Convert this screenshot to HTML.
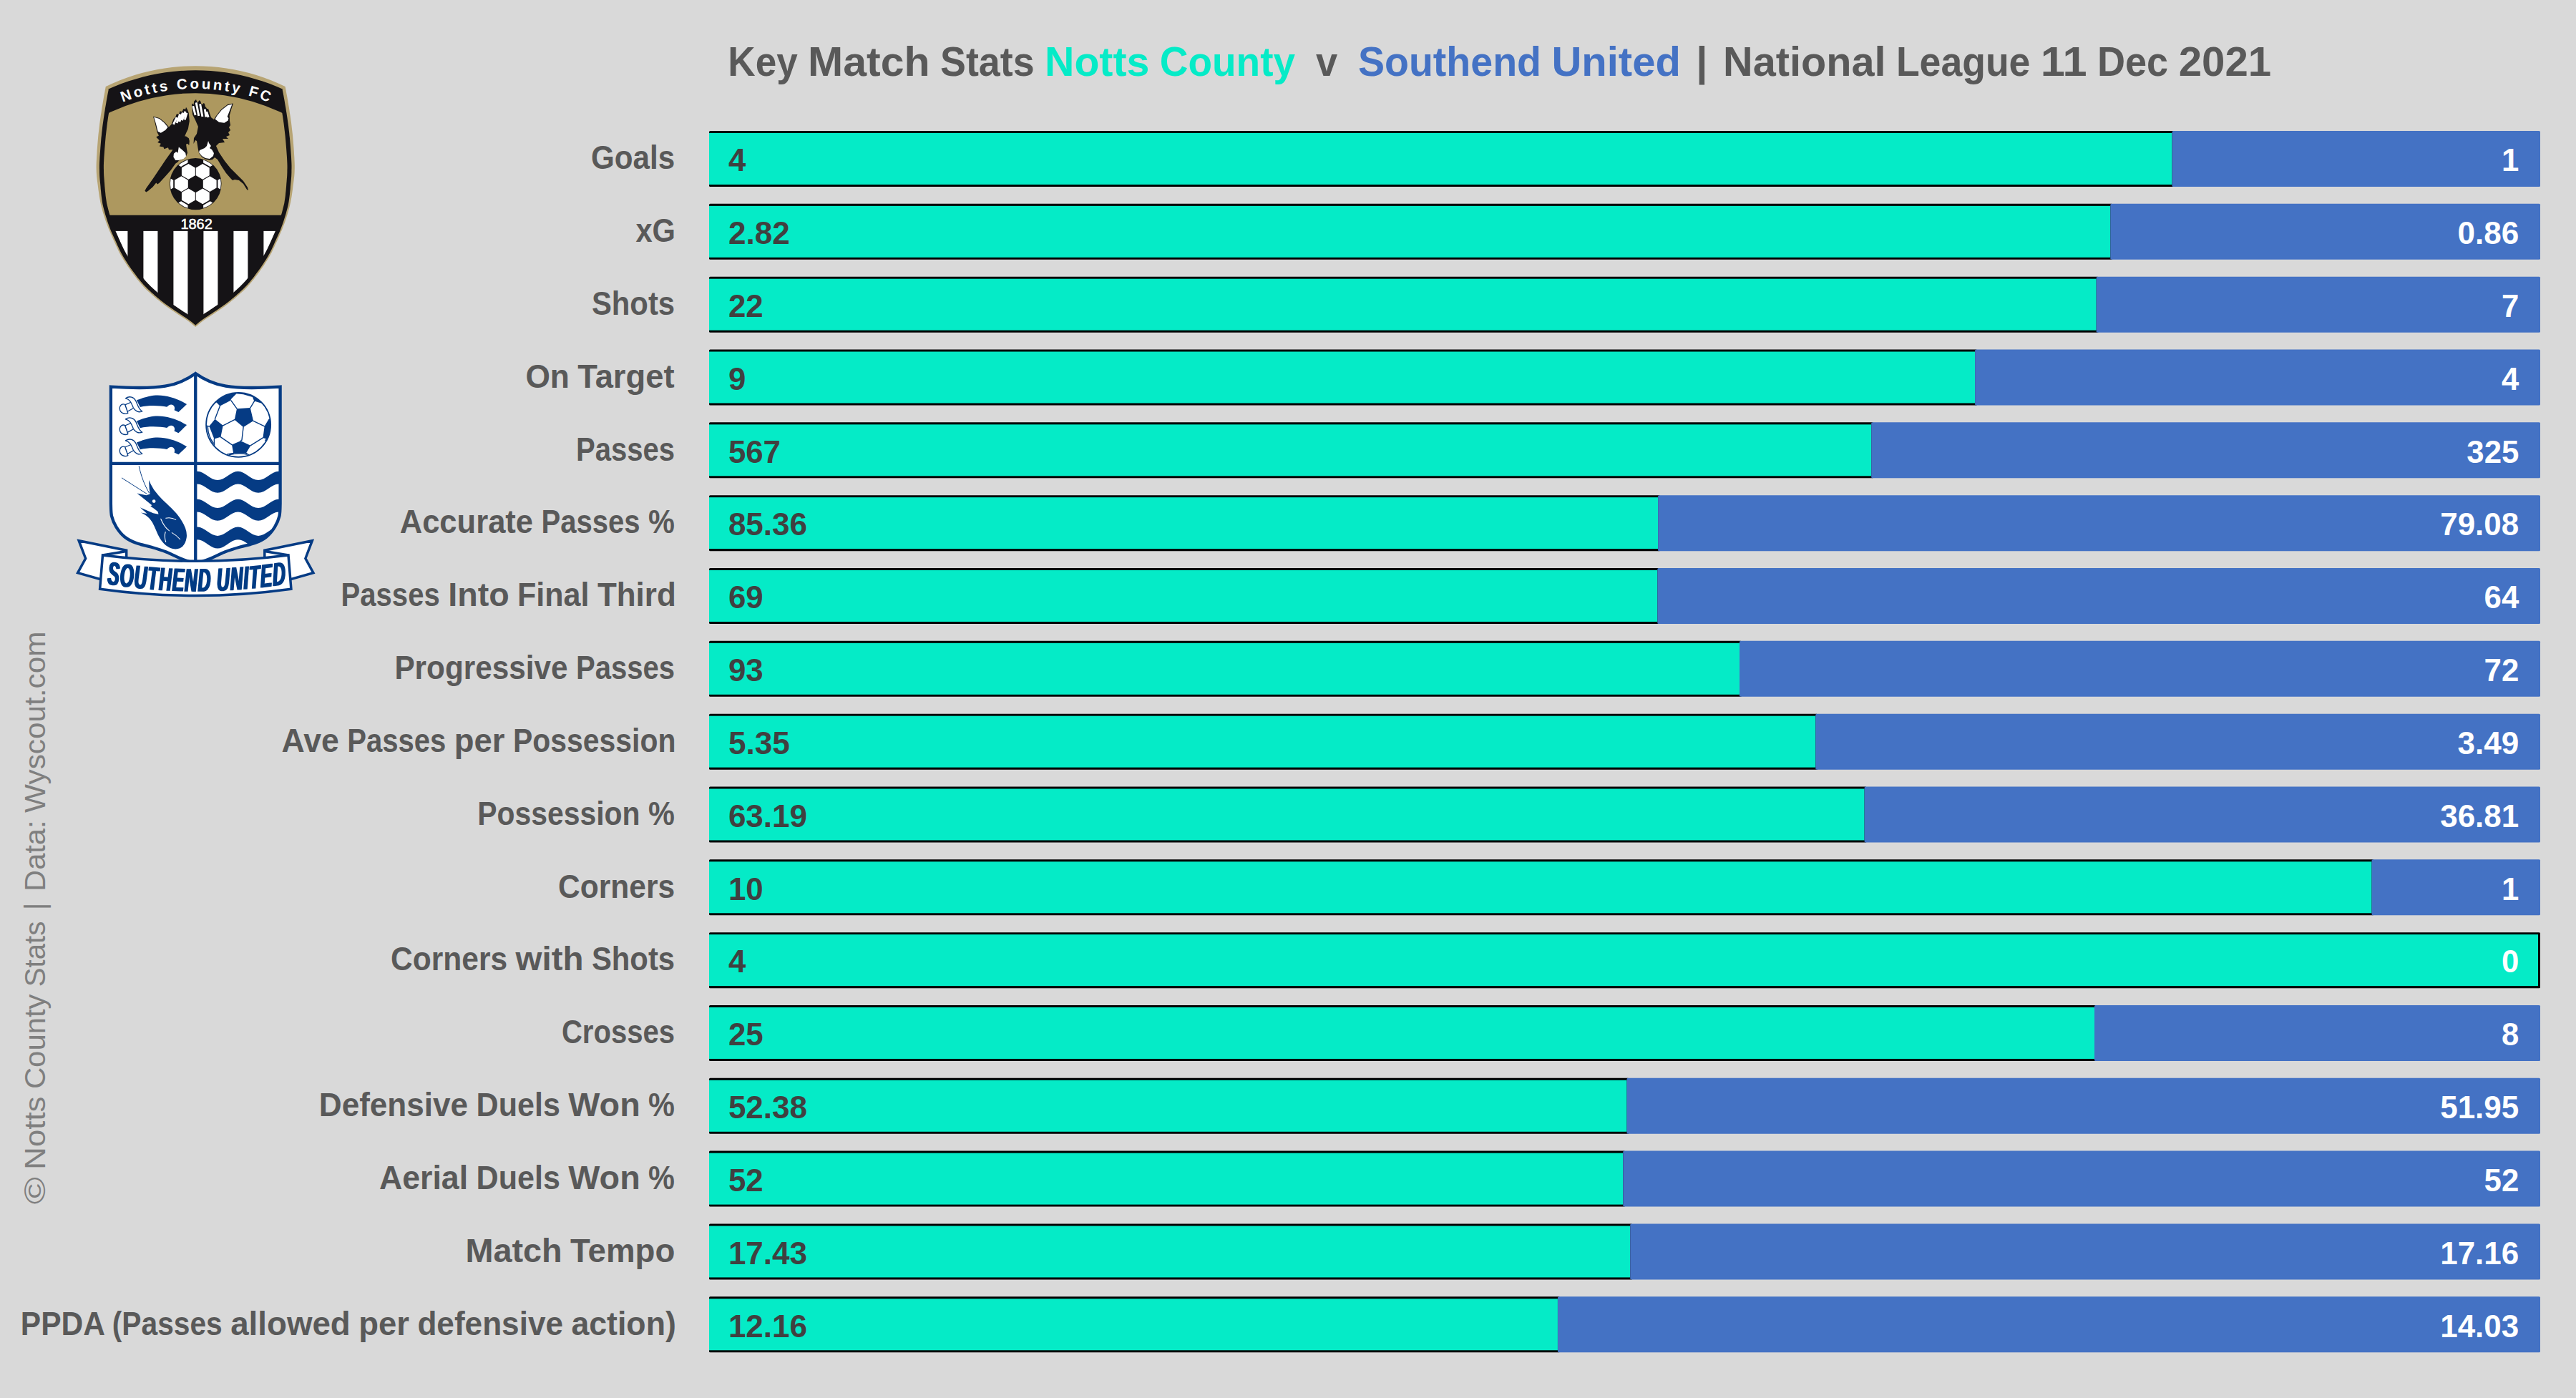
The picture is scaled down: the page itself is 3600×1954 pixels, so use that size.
<!DOCTYPE html>
<html><head><meta charset="utf-8"><title>Key Match Stats</title>
<style>
html,body{margin:0;padding:0;background:#D9D9D9}
svg{display:block}
text{font-family:"Liberation Sans",sans-serif;white-space:pre}
</style></head><body>
<svg width="3600" height="1954" viewBox="0 0 3600 1954">
<rect width="3600" height="1954" fill="#D9D9D9"/>
<g id="bars">
<rect x="991.0" y="183.00" width="2047.50" height="78" fill="#000" rx="1.5"/>
<rect x="991.0" y="186.00" width="2044.50" height="72" fill="#05EBC7"/>
<rect x="3035.50" y="183.00" width="514.50" height="78" fill="#4472C4" rx="1.5"/>
<rect x="991.0" y="284.83" width="1961.32" height="78" fill="#000" rx="1.5"/>
<rect x="991.0" y="287.83" width="1958.32" height="72" fill="#05EBC7"/>
<rect x="2949.32" y="284.83" width="600.68" height="78" fill="#4472C4" rx="1.5"/>
<rect x="991.0" y="386.66" width="1941.67" height="78" fill="#000" rx="1.5"/>
<rect x="991.0" y="389.66" width="1938.67" height="72" fill="#05EBC7"/>
<rect x="2929.67" y="386.66" width="620.33" height="78" fill="#4472C4" rx="1.5"/>
<rect x="991.0" y="488.49" width="1772.08" height="78" fill="#000" rx="1.5"/>
<rect x="991.0" y="491.49" width="1769.08" height="72" fill="#05EBC7"/>
<rect x="2760.08" y="488.49" width="789.92" height="78" fill="#4472C4" rx="1.5"/>
<rect x="991.0" y="590.32" width="1627.18" height="78" fill="#000" rx="1.5"/>
<rect x="991.0" y="593.32" width="1624.18" height="72" fill="#05EBC7"/>
<rect x="2615.18" y="590.32" width="934.82" height="78" fill="#4472C4" rx="1.5"/>
<rect x="991.0" y="692.15" width="1329.09" height="78" fill="#000" rx="1.5"/>
<rect x="991.0" y="695.15" width="1326.09" height="72" fill="#05EBC7"/>
<rect x="2317.09" y="692.15" width="1232.91" height="78" fill="#4472C4" rx="1.5"/>
<rect x="991.0" y="793.98" width="1328.32" height="78" fill="#000" rx="1.5"/>
<rect x="991.0" y="796.98" width="1325.32" height="72" fill="#05EBC7"/>
<rect x="2316.32" y="793.98" width="1233.68" height="78" fill="#4472C4" rx="1.5"/>
<rect x="991.0" y="895.81" width="1443.00" height="78" fill="#000" rx="1.5"/>
<rect x="991.0" y="898.81" width="1440.00" height="72" fill="#05EBC7"/>
<rect x="2431.00" y="895.81" width="1119.00" height="78" fill="#4472C4" rx="1.5"/>
<rect x="991.0" y="997.64" width="1549.31" height="78" fill="#000" rx="1.5"/>
<rect x="991.0" y="1000.64" width="1546.31" height="72" fill="#05EBC7"/>
<rect x="2537.31" y="997.64" width="1012.69" height="78" fill="#4472C4" rx="1.5"/>
<rect x="991.0" y="1099.47" width="1617.58" height="78" fill="#000" rx="1.5"/>
<rect x="991.0" y="1102.47" width="1614.58" height="72" fill="#05EBC7"/>
<rect x="2605.58" y="1099.47" width="944.42" height="78" fill="#4472C4" rx="1.5"/>
<rect x="991.0" y="1201.30" width="2326.50" height="78" fill="#000" rx="1.5"/>
<rect x="991.0" y="1204.30" width="2323.50" height="72" fill="#05EBC7"/>
<rect x="3314.50" y="1201.30" width="235.50" height="78" fill="#4472C4" rx="1.5"/>
<rect x="991.0" y="1303.13" width="2559.00" height="78" fill="#000" rx="1.5"/>
<rect x="991.0" y="1306.13" width="2556.00" height="72" fill="#05EBC7"/>
<rect x="991.0" y="1404.96" width="1939.00" height="78" fill="#000" rx="1.5"/>
<rect x="991.0" y="1407.96" width="1936.00" height="72" fill="#05EBC7"/>
<rect x="2927.00" y="1404.96" width="623.00" height="78" fill="#4472C4" rx="1.5"/>
<rect x="991.0" y="1506.79" width="1285.52" height="78" fill="#000" rx="1.5"/>
<rect x="991.0" y="1509.79" width="1282.52" height="72" fill="#05EBC7"/>
<rect x="2273.52" y="1506.79" width="1276.48" height="78" fill="#4472C4" rx="1.5"/>
<rect x="991.0" y="1608.62" width="1280.25" height="78" fill="#000" rx="1.5"/>
<rect x="991.0" y="1611.62" width="1277.25" height="72" fill="#05EBC7"/>
<rect x="2268.25" y="1608.62" width="1281.75" height="78" fill="#4472C4" rx="1.5"/>
<rect x="991.0" y="1710.45" width="1290.23" height="78" fill="#000" rx="1.5"/>
<rect x="991.0" y="1713.45" width="1287.23" height="72" fill="#05EBC7"/>
<rect x="2278.23" y="1710.45" width="1271.77" height="78" fill="#4472C4" rx="1.5"/>
<rect x="991.0" y="1812.28" width="1188.95" height="78" fill="#000" rx="1.5"/>
<rect x="991.0" y="1815.28" width="1185.95" height="72" fill="#05EBC7"/>
<rect x="2176.95" y="1812.28" width="1373.05" height="78" fill="#4472C4" rx="1.5"/>
</g>
<g id="texts" xml:space="preserve">
<text y="236.2" font-size="45.98" font-weight="bold" fill="#595959" ><tspan x="825.9" textLength="117.2" lengthAdjust="spacingAndGlyphs">Goals</tspan></text>
<text y="239.3" font-size="43.55" font-weight="bold" fill="#404040" ><tspan x="1017.9" textLength="24.3" lengthAdjust="spacingAndGlyphs">4</tspan></text>
<text y="239.3" font-size="43.55" font-weight="bold" fill="#fff" ><tspan x="3496.0" textLength="24.3" lengthAdjust="spacingAndGlyphs">1</tspan></text>
<text y="338.0" font-size="45.98" font-weight="bold" fill="#595959" ><tspan x="888.4" textLength="55.6" lengthAdjust="spacingAndGlyphs">xG</tspan></text>
<text y="341.1" font-size="43.55" font-weight="bold" fill="#404040" ><tspan x="1017.9" textLength="85.8" lengthAdjust="spacingAndGlyphs">2.82</tspan></text>
<text y="341.1" font-size="43.55" font-weight="bold" fill="#fff" ><tspan x="3434.5" textLength="85.8" lengthAdjust="spacingAndGlyphs">0.86</tspan></text>
<text y="439.9" font-size="45.98" font-weight="bold" fill="#595959" ><tspan x="826.9" textLength="116.2" lengthAdjust="spacingAndGlyphs">Shots</tspan></text>
<text y="443.0" font-size="43.55" font-weight="bold" fill="#404040" ><tspan x="1017.9" textLength="48.7" lengthAdjust="spacingAndGlyphs">22</tspan></text>
<text y="443.0" font-size="43.55" font-weight="bold" fill="#fff" ><tspan x="3496.0" textLength="24.3" lengthAdjust="spacingAndGlyphs">7</tspan></text>
<text y="541.7" font-size="45.98" font-weight="bold" fill="#595959" ><tspan x="734.4" textLength="61.5" lengthAdjust="spacingAndGlyphs">On</tspan> <tspan x="807.3" textLength="135.2" lengthAdjust="spacingAndGlyphs">Target</tspan></text>
<text y="544.8" font-size="43.55" font-weight="bold" fill="#404040" ><tspan x="1017.9" textLength="24.3" lengthAdjust="spacingAndGlyphs">9</tspan></text>
<text y="544.8" font-size="43.55" font-weight="bold" fill="#fff" ><tspan x="3496.0" textLength="24.3" lengthAdjust="spacingAndGlyphs">4</tspan></text>
<text y="643.5" font-size="45.98" font-weight="bold" fill="#595959" ><tspan x="805.0" textLength="138.1" lengthAdjust="spacingAndGlyphs">Passes</tspan></text>
<text y="646.6" font-size="43.55" font-weight="bold" fill="#404040" ><tspan x="1017.9" textLength="73.0" lengthAdjust="spacingAndGlyphs">567</tspan></text>
<text y="646.6" font-size="43.55" font-weight="bold" fill="#fff" ><tspan x="3447.3" textLength="73.0" lengthAdjust="spacingAndGlyphs">325</tspan></text>
<text y="745.4" font-size="45.98" font-weight="bold" fill="#595959" ><tspan x="558.7" textLength="186.4" lengthAdjust="spacingAndGlyphs">Accurate</tspan> <tspan x="756.5" textLength="138.1" lengthAdjust="spacingAndGlyphs">Passes</tspan> <tspan x="906.1" textLength="36.9" lengthAdjust="spacingAndGlyphs">%</tspan></text>
<text y="748.4" font-size="43.55" font-weight="bold" fill="#404040" ><tspan x="1017.9" textLength="110.1" lengthAdjust="spacingAndGlyphs">85.36</tspan></text>
<text y="748.4" font-size="43.55" font-weight="bold" fill="#fff" ><tspan x="3410.2" textLength="110.1" lengthAdjust="spacingAndGlyphs">79.08</tspan></text>
<text y="847.2" font-size="45.98" font-weight="bold" fill="#595959" ><tspan x="476.6" textLength="138.1" lengthAdjust="spacingAndGlyphs">Passes</tspan> <tspan x="626.2" textLength="85.5" lengthAdjust="spacingAndGlyphs">Into</tspan> <tspan x="723.1" textLength="100.4" lengthAdjust="spacingAndGlyphs">Final</tspan> <tspan x="834.9" textLength="109.9" lengthAdjust="spacingAndGlyphs">Third</tspan></text>
<text y="850.3" font-size="43.55" font-weight="bold" fill="#404040" ><tspan x="1017.9" textLength="48.7" lengthAdjust="spacingAndGlyphs">69</tspan></text>
<text y="850.3" font-size="43.55" font-weight="bold" fill="#fff" ><tspan x="3471.6" textLength="48.7" lengthAdjust="spacingAndGlyphs">64</tspan></text>
<text y="949.0" font-size="45.98" font-weight="bold" fill="#595959" ><tspan x="551.4" textLength="242.1" lengthAdjust="spacingAndGlyphs">Progressive</tspan> <tspan x="805.0" textLength="138.1" lengthAdjust="spacingAndGlyphs">Passes</tspan></text>
<text y="952.1" font-size="43.55" font-weight="bold" fill="#404040" ><tspan x="1017.9" textLength="48.7" lengthAdjust="spacingAndGlyphs">93</tspan></text>
<text y="952.1" font-size="43.55" font-weight="bold" fill="#fff" ><tspan x="3471.6" textLength="48.7" lengthAdjust="spacingAndGlyphs">72</tspan></text>
<text y="1050.8" font-size="45.98" font-weight="bold" fill="#595959" ><tspan x="393.6" textLength="80.2" lengthAdjust="spacingAndGlyphs">Ave</tspan> <tspan x="485.3" textLength="138.1" lengthAdjust="spacingAndGlyphs">Passes</tspan> <tspan x="634.8" textLength="70.7" lengthAdjust="spacingAndGlyphs">per</tspan> <tspan x="717.0" textLength="227.4" lengthAdjust="spacingAndGlyphs">Possession</tspan></text>
<text y="1053.9" font-size="43.55" font-weight="bold" fill="#404040" ><tspan x="1017.9" textLength="85.8" lengthAdjust="spacingAndGlyphs">5.35</tspan></text>
<text y="1053.9" font-size="43.55" font-weight="bold" fill="#fff" ><tspan x="3434.5" textLength="85.8" lengthAdjust="spacingAndGlyphs">3.49</tspan></text>
<text y="1152.7" font-size="45.98" font-weight="bold" fill="#595959" ><tspan x="667.2" textLength="227.4" lengthAdjust="spacingAndGlyphs">Possession</tspan> <tspan x="906.1" textLength="36.9" lengthAdjust="spacingAndGlyphs">%</tspan></text>
<text y="1155.8" font-size="43.55" font-weight="bold" fill="#404040" ><tspan x="1017.9" textLength="110.1" lengthAdjust="spacingAndGlyphs">63.19</tspan></text>
<text y="1155.8" font-size="43.55" font-weight="bold" fill="#fff" ><tspan x="3410.2" textLength="110.1" lengthAdjust="spacingAndGlyphs">36.81</tspan></text>
<text y="1254.5" font-size="45.98" font-weight="bold" fill="#595959" ><tspan x="780.1" textLength="163.0" lengthAdjust="spacingAndGlyphs">Corners</tspan></text>
<text y="1257.6" font-size="43.55" font-weight="bold" fill="#404040" ><tspan x="1017.9" textLength="48.7" lengthAdjust="spacingAndGlyphs">10</tspan></text>
<text y="1257.6" font-size="43.55" font-weight="bold" fill="#fff" ><tspan x="3496.0" textLength="24.3" lengthAdjust="spacingAndGlyphs">1</tspan></text>
<text y="1356.3" font-size="45.98" font-weight="bold" fill="#595959" ><tspan x="546.1" textLength="163.0" lengthAdjust="spacingAndGlyphs">Corners</tspan> <tspan x="720.5" textLength="95.0" lengthAdjust="spacingAndGlyphs">with</tspan> <tspan x="826.9" textLength="116.2" lengthAdjust="spacingAndGlyphs">Shots</tspan></text>
<text y="1359.4" font-size="43.55" font-weight="bold" fill="#404040" ><tspan x="1017.9" textLength="24.3" lengthAdjust="spacingAndGlyphs">4</tspan></text>
<text y="1359.4" font-size="43.55" font-weight="bold" fill="#fff" ><tspan x="3496.0" textLength="24.3" lengthAdjust="spacingAndGlyphs">0</tspan></text>
<text y="1458.2" font-size="45.98" font-weight="bold" fill="#595959" ><tspan x="784.9" textLength="158.2" lengthAdjust="spacingAndGlyphs">Crosses</tspan></text>
<text y="1461.3" font-size="43.55" font-weight="bold" fill="#404040" ><tspan x="1017.9" textLength="48.7" lengthAdjust="spacingAndGlyphs">25</tspan></text>
<text y="1461.3" font-size="43.55" font-weight="bold" fill="#fff" ><tspan x="3496.0" textLength="24.3" lengthAdjust="spacingAndGlyphs">8</tspan></text>
<text y="1560.0" font-size="45.98" font-weight="bold" fill="#595959" ><tspan x="445.8" textLength="208.3" lengthAdjust="spacingAndGlyphs">Defensive</tspan> <tspan x="665.6" textLength="117.3" lengthAdjust="spacingAndGlyphs">Duels</tspan> <tspan x="794.3" textLength="100.4" lengthAdjust="spacingAndGlyphs">Won</tspan> <tspan x="906.1" textLength="36.9" lengthAdjust="spacingAndGlyphs">%</tspan></text>
<text y="1563.1" font-size="43.55" font-weight="bold" fill="#404040" ><tspan x="1017.9" textLength="110.1" lengthAdjust="spacingAndGlyphs">52.38</tspan></text>
<text y="1563.1" font-size="43.55" font-weight="bold" fill="#fff" ><tspan x="3410.2" textLength="110.1" lengthAdjust="spacingAndGlyphs">51.95</tspan></text>
<text y="1661.8" font-size="45.98" font-weight="bold" fill="#595959" ><tspan x="530.0" textLength="124.1" lengthAdjust="spacingAndGlyphs">Aerial</tspan> <tspan x="665.6" textLength="117.3" lengthAdjust="spacingAndGlyphs">Duels</tspan> <tspan x="794.3" textLength="100.4" lengthAdjust="spacingAndGlyphs">Won</tspan> <tspan x="906.1" textLength="36.9" lengthAdjust="spacingAndGlyphs">%</tspan></text>
<text y="1664.9" font-size="43.55" font-weight="bold" fill="#404040" ><tspan x="1017.9" textLength="48.7" lengthAdjust="spacingAndGlyphs">52</tspan></text>
<text y="1664.9" font-size="43.55" font-weight="bold" fill="#fff" ><tspan x="3471.6" textLength="48.7" lengthAdjust="spacingAndGlyphs">52</tspan></text>
<text y="1763.7" font-size="45.98" font-weight="bold" fill="#595959" ><tspan x="650.4" textLength="135.3" lengthAdjust="spacingAndGlyphs">Match</tspan> <tspan x="797.1" textLength="146.2" lengthAdjust="spacingAndGlyphs">Tempo</tspan></text>
<text y="1766.8" font-size="43.55" font-weight="bold" fill="#404040" ><tspan x="1017.9" textLength="110.1" lengthAdjust="spacingAndGlyphs">17.43</tspan></text>
<text y="1766.8" font-size="43.55" font-weight="bold" fill="#fff" ><tspan x="3410.2" textLength="110.1" lengthAdjust="spacingAndGlyphs">17.16</tspan></text>
<text y="1865.5" font-size="45.98" font-weight="bold" fill="#595959" ><tspan x="28.8" textLength="116.6" lengthAdjust="spacingAndGlyphs">PPDA</tspan> <tspan x="156.8" textLength="153.9" lengthAdjust="spacingAndGlyphs">(Passes</tspan> <tspan x="322.2" textLength="167.6" lengthAdjust="spacingAndGlyphs">allowed</tspan> <tspan x="501.3" textLength="70.7" lengthAdjust="spacingAndGlyphs">per</tspan> <tspan x="583.4" textLength="203.6" lengthAdjust="spacingAndGlyphs">defensive</tspan> <tspan x="798.4" textLength="146.4" lengthAdjust="spacingAndGlyphs">action)</tspan></text>
<text y="1868.6" font-size="43.55" font-weight="bold" fill="#404040" ><tspan x="1017.9" textLength="110.1" lengthAdjust="spacingAndGlyphs">12.16</tspan></text>
<text y="1868.6" font-size="43.55" font-weight="bold" fill="#fff" ><tspan x="3410.2" textLength="110.1" lengthAdjust="spacingAndGlyphs">14.03</tspan></text>
<text y="106.3" font-size="57.98" font-weight="bold" fill="#595959" ><tspan x="1017.3" textLength="97.4" lengthAdjust="spacingAndGlyphs">Key</tspan> <tspan x="1129.1" textLength="170.6" lengthAdjust="spacingAndGlyphs">Match</tspan> <tspan x="1314.1" textLength="131.5" lengthAdjust="spacingAndGlyphs">Stats</tspan></text>
<text y="106.3" font-size="57.98" font-weight="bold" fill="#05EBC7" ><tspan x="1460.1" textLength="146.2" lengthAdjust="spacingAndGlyphs">Notts</tspan> <tspan x="1620.8" textLength="189.2" lengthAdjust="spacingAndGlyphs">County</tspan></text>
<text y="106.3" font-size="57.98" font-weight="bold" fill="#595959" ><tspan x="1838.9" textLength="30.2" lengthAdjust="spacingAndGlyphs">v</tspan></text>
<text y="106.3" font-size="57.98" font-weight="bold" fill="#4472C4" ><tspan x="1898.0" textLength="256.0" lengthAdjust="spacingAndGlyphs">Southend</tspan> <tspan x="2168.5" textLength="180.3" lengthAdjust="spacingAndGlyphs">United</tspan></text>
<text y="106.3" font-size="57.98" font-weight="bold" fill="#595959" ><tspan x="2370.3">|</tspan> <tspan x="2408.1" textLength="227.4" lengthAdjust="spacingAndGlyphs">National</tspan> <tspan x="2649.9" textLength="187.5" lengthAdjust="spacingAndGlyphs">League</tspan> <tspan x="2851.8" textLength="64.8" lengthAdjust="spacingAndGlyphs">11</tspan> <tspan x="2931.0" textLength="99.2" lengthAdjust="spacingAndGlyphs">Dec</tspan> <tspan x="3044.7" textLength="129.5" lengthAdjust="spacingAndGlyphs">2021</tspan></text>
<g transform="translate(62.8 1683.2) rotate(-90)"><text y="0.0" font-size="41.51" font-weight="normal" fill="#7F7F7F" ><tspan x="0.0" textLength="38.2" lengthAdjust="spacingAndGlyphs">©</tspan> <tspan x="48.5" textLength="102.2" lengthAdjust="spacingAndGlyphs">Notts</tspan> <tspan x="161.1" textLength="132.6" lengthAdjust="spacingAndGlyphs">County</tspan> <tspan x="304.0" textLength="91.5" lengthAdjust="spacingAndGlyphs">Stats</tspan> <tspan x="411.0">|</tspan> <tspan x="437.3" textLength="99.5" lengthAdjust="spacingAndGlyphs">Data:</tspan> <tspan x="547.1" textLength="253.7" lengthAdjust="spacingAndGlyphs">Wyscout.com</tspan></text></g>
</g>
<g id="notts-crest">
<defs><clipPath id="ncin"><path d="M153.6,130.0 162.0,126.5 171.7,122.7 181.5,119.2 191.4,116.1 201.4,113.3 211.5,111.0 221.7,108.9 231.9,107.3 242.2,105.9 252.5,105.0 262.8,104.4 273.2,104.2 283.6,104.4 293.9,105.0 304.2,105.9 314.5,107.3 324.7,108.9 334.9,111.0 345.0,113.3 355.0,116.1 364.9,119.2 374.7,122.7 384.4,126.5 392.8,130.0 388.4,124.8 389.0,127.5 389.6,130.7 390.3,134.2 391.0,137.9 391.7,141.7 392.3,145.4 392.9,148.9 393.4,152.3 394.0,155.7 394.5,159.1 395.1,162.5 395.6,166.0 396.1,169.4 396.6,172.9 397.0,176.3 397.4,179.7 397.8,183.1 398.2,186.4 398.6,189.8 398.9,193.2 399.2,196.6 399.5,200.1 399.8,203.8 400.1,207.6 400.4,211.6 400.7,215.8 401.0,219.9 401.2,224.0 401.4,227.9 401.5,231.6 401.5,234.9 401.4,237.9 401.4,240.7 401.3,243.2 401.2,245.7 401.0,248.2 400.8,250.8 400.6,253.6 400.3,256.7 400.1,260.0 399.8,263.3 399.5,266.8 399.1,270.2 398.8,273.7 398.3,277.2 397.8,280.6 397.3,283.9 396.5,287.3 395.7,290.6 394.8,294.0 393.9,297.4 392.9,300.8 391.8,304.2 390.7,307.6 389.6,311.0 388.3,314.4 387.0,318.0 385.5,321.6 383.9,325.2 382.3,328.8 380.8,332.2 379.3,335.4 378.0,338.4 376.8,341.1 375.7,343.4 374.7,345.5 373.8,347.4 372.9,349.2 372.0,351.1 370.9,353.0 369.7,355.2 368.3,357.5 366.8,360.0 365.2,362.5 363.5,365.1 361.8,367.6 360.0,370.2 358.2,372.8 356.5,375.3 354.7,377.8 352.8,380.3 351.0,382.8 349.1,385.2 347.2,387.6 345.3,389.9 343.4,392.2 341.5,394.3 339.7,396.2 337.9,398.1 336.0,400.0 334.1,401.7 332.2,403.5 330.3,405.2 328.3,406.9 326.4,408.7 324.5,410.3 322.6,411.9 320.7,413.5 318.8,415.0 316.9,416.5 315.0,418.0 313.1,419.5 311.1,420.9 309.2,422.3 307.3,423.7 305.4,425.1 303.5,426.4 301.5,427.7 299.6,429.1 297.6,430.4 295.6,431.7 293.7,433.0 291.7,434.4 289.7,435.7 287.6,437.0 285.6,438.3 283.6,439.7 281.6,441.0 279.8,442.3 278.0,443.6 276.2,444.9 274.6,446.2 273.0,447.5 271.6,448.6 270.3,449.7 269.3,450.5 273.2,449.5 277.1,450.5 276.1,449.7 274.8,448.6 273.4,447.5 271.8,446.2 270.2,444.9 268.4,443.6 266.6,442.3 264.8,441.0 262.8,439.7 260.8,438.3 258.8,437.0 256.7,435.7 254.7,434.4 252.7,433.0 250.8,431.7 248.8,430.4 246.8,429.1 244.9,427.7 242.9,426.4 241.0,425.1 239.1,423.7 237.2,422.3 235.3,420.9 233.3,419.5 231.4,418.0 229.5,416.5 227.6,415.0 225.7,413.5 223.8,411.9 221.9,410.3 220.0,408.7 218.1,406.9 216.1,405.2 214.2,403.5 212.3,401.7 210.4,400.0 208.5,398.1 206.7,396.2 204.9,394.3 203.0,392.2 201.1,389.9 199.2,387.6 197.3,385.2 195.4,382.8 193.6,380.3 191.7,377.8 189.9,375.3 188.2,372.8 186.4,370.2 184.6,367.6 182.9,365.1 181.2,362.5 179.6,360.0 178.1,357.5 176.7,355.2 175.5,353.0 174.4,351.1 173.5,349.2 172.6,347.4 171.7,345.5 170.7,343.4 169.6,341.1 168.4,338.4 167.1,335.4 165.6,332.2 164.1,328.8 162.5,325.2 160.9,321.6 159.4,318.0 158.1,314.4 156.8,311.0 155.7,307.6 154.6,304.2 153.5,300.8 152.5,297.4 151.6,294.0 150.7,290.6 149.9,287.3 149.1,283.9 148.6,280.6 148.1,277.2 147.6,273.7 147.3,270.2 146.9,266.8 146.6,263.3 146.3,260.0 146.1,256.7 145.8,253.6 145.6,250.8 145.4,248.2 145.2,245.7 145.1,243.2 145.0,240.7 145.0,237.9 144.9,234.9 144.9,231.6 145.0,227.9 145.2,224.0 145.4,219.9 145.7,215.8 146.0,211.6 146.3,207.6 146.6,203.8 146.9,200.1 147.2,196.6 147.5,193.2 147.8,189.8 148.2,186.4 148.6,183.1 149.0,179.7 149.4,176.3 149.8,172.9 150.3,169.4 150.8,166.0 151.3,162.5 151.9,159.1 152.4,155.7 153.0,152.3 153.5,148.9 154.1,145.4 154.7,141.7 155.4,137.9 156.1,134.2 156.8,130.7 157.4,127.5 158.0,124.8Z"/></clipPath>
<path id="ncarc" d="M130.45,162.30 A285.9,285.9 0 0 1 416.35,162.30"/>
</defs>
<path d="M147.8,120.9 157.6,116.4 167.6,112.2 177.7,108.5 188.0,105.1 198.4,102.1 208.9,99.5 219.5,97.3 230.1,95.4 240.8,94.0 251.6,93.0 262.4,92.4 273.2,92.2 284.0,92.4 294.8,93.0 305.6,94.0 316.3,95.4 326.9,97.3 337.5,99.5 348.0,102.1 358.4,105.1 368.7,108.5 378.8,112.2 388.8,116.4 398.6,120.9 399.0,122.9 399.5,125.6 400.0,128.8 400.7,132.3 401.4,136.1 402.1,139.9 402.7,143.7 403.3,147.2 403.9,150.6 404.4,154.0 404.9,157.5 405.5,161.0 406.0,164.5 406.5,168.0 407.0,171.5 407.4,175.0 407.8,178.5 408.2,181.9 408.6,185.3 409.0,188.7 409.3,192.2 409.6,195.7 409.9,199.3 410.2,203.0 410.5,206.9 410.8,210.9 411.0,215.1 411.3,219.3 411.5,223.5 411.7,227.5 411.8,231.4 411.8,235.0 411.7,238.3 411.6,241.2 411.4,244.0 411.2,246.7 410.9,249.3 410.6,252.0 410.2,254.9 409.8,257.9 409.4,261.1 409.0,264.5 408.5,268.0 408.0,271.5 407.5,275.1 406.8,278.7 406.2,282.3 405.4,285.8 404.6,289.3 403.6,292.8 402.7,296.3 401.6,299.8 400.5,303.2 399.4,306.7 398.2,310.2 396.9,313.7 395.5,317.3 394.1,320.9 392.5,324.6 390.9,328.3 389.3,331.9 387.8,335.4 386.3,338.6 384.9,341.6 383.7,344.3 382.6,346.6 381.6,348.7 380.6,350.8 379.7,352.7 378.6,354.7 377.5,356.7 376.2,359.0 374.7,361.4 373.2,364.0 371.5,366.6 369.8,369.2 368.1,371.9 366.2,374.5 364.4,377.1 362.6,379.7 360.8,382.2 358.9,384.8 356.9,387.3 355.0,389.9 353.0,392.3 351.0,394.7 349.1,397.1 347.1,399.3 345.1,401.4 343.2,403.4 341.2,405.4 339.2,407.2 337.2,409.1 335.2,410.8 333.3,412.6 331.3,414.3 329.3,416.0 327.4,417.7 325.4,419.3 323.4,420.8 321.5,422.4 319.5,423.9 317.6,425.4 315.6,426.9 313.6,428.4 311.7,429.8 309.7,431.2 307.7,432.5 305.7,433.9 303.7,435.2 301.8,436.6 299.8,437.9 297.8,439.2 295.8,440.6 293.7,441.9 291.6,443.2 289.6,444.6 287.7,445.8 285.8,447.1 284.1,448.3 282.4,449.5 280.8,450.8 279.2,452.0 277.7,453.2 276.3,454.4 275.0,455.4 274.0,456.2 273.2,456.9 272.4,456.2 271.4,455.4 270.1,454.4 268.7,453.2 267.2,452.0 265.6,450.8 264.0,449.5 262.3,448.3 260.6,447.1 258.7,445.8 256.8,444.6 254.8,443.2 252.7,441.9 250.6,440.6 248.6,439.2 246.6,437.9 244.6,436.6 242.7,435.2 240.7,433.9 238.7,432.5 236.7,431.2 234.7,429.8 232.8,428.4 230.8,426.9 228.8,425.4 226.9,423.9 224.9,422.4 223.0,420.8 221.0,419.3 219.0,417.7 217.1,416.0 215.1,414.3 213.1,412.6 211.1,410.8 209.2,409.1 207.2,407.2 205.2,405.4 203.2,403.4 201.3,401.4 199.3,399.3 197.3,397.1 195.4,394.7 193.4,392.3 191.4,389.9 189.5,387.3 187.5,384.8 185.6,382.2 183.8,379.7 182.0,377.1 180.2,374.5 178.3,371.9 176.6,369.2 174.9,366.6 173.2,364.0 171.7,361.4 170.2,359.0 168.9,356.7 167.8,354.7 166.7,352.7 165.7,350.8 164.8,348.7 163.8,346.6 162.7,344.3 161.5,341.6 160.1,338.6 158.7,335.4 157.1,331.9 155.5,328.3 153.9,324.6 152.3,320.9 150.9,317.3 149.5,313.7 148.2,310.2 147.0,306.7 145.9,303.2 144.8,299.8 143.7,296.3 142.8,292.8 141.8,289.3 141.0,285.8 140.2,282.3 139.6,278.7 138.9,275.1 138.4,271.5 137.9,268.0 137.4,264.5 137.0,261.1 136.6,257.9 136.2,254.9 135.8,252.0 135.5,249.3 135.2,246.7 135.0,244.0 134.8,241.2 134.7,238.3 134.6,235.0 134.6,231.4 134.7,227.5 134.9,223.5 135.1,219.3 135.4,215.1 135.6,210.9 135.9,206.9 136.2,203.0 136.5,199.3 136.8,195.7 137.1,192.2 137.4,188.7 137.8,185.3 138.2,181.9 138.6,178.5 139.0,175.0 139.4,171.5 139.9,168.0 140.4,164.5 140.9,161.0 141.5,157.5 142.0,154.0 142.5,150.6 143.1,147.2 143.7,143.7 144.3,139.9 145.0,136.1 145.7,132.3 146.4,128.8 146.9,125.6 147.4,122.9Z" fill="#b7a473"/>
<path d="M150.4,124.9 159.6,121.0 169.5,117.1 179.5,113.5 189.6,110.4 199.9,107.6 210.2,105.1 220.6,103.0 231.0,101.3 241.5,100.0 252.0,99.0 262.6,98.4 273.2,98.2 283.8,98.4 294.4,99.0 304.9,100.0 315.4,101.3 325.8,103.0 336.2,105.1 346.5,107.6 356.8,110.4 366.9,113.5 376.9,117.1 386.8,121.0 396.0,124.9 394.3,123.8 394.9,126.4 395.5,129.6 396.2,133.1 396.9,136.9 397.6,140.7 398.2,144.4 398.8,147.9 399.4,151.3 399.9,154.7 400.5,158.2 401.0,161.7 401.5,165.1 402.0,168.6 402.5,172.1 403.0,175.6 403.4,179.0 403.8,182.4 404.2,185.8 404.5,189.2 404.9,192.6 405.2,196.1 405.5,199.7 405.8,203.3 406.1,207.2 406.4,211.2 406.7,215.4 407.0,219.6 407.2,223.7 407.4,227.7 407.5,231.5 407.5,235.0 407.4,238.1 407.4,241.0 407.3,243.7 407.2,246.3 407.0,248.9 406.8,251.6 406.5,254.4 406.2,257.4 405.9,260.7 405.7,264.1 405.3,267.6 405.0,271.1 404.6,274.6 404.1,278.2 403.6,281.8 403.0,285.2 402.2,288.7 401.3,292.2 400.4,295.6 399.5,299.1 398.4,302.6 397.3,306.0 396.2,309.5 395.0,313.0 393.7,316.5 392.3,320.2 390.8,323.9 389.2,327.5 387.6,331.1 386.0,334.6 384.5,337.8 383.2,340.8 382.0,343.5 380.9,345.8 379.9,347.9 378.9,349.9 378.0,351.8 377.0,353.8 375.8,355.8 374.6,358.0 373.1,360.5 371.6,363.0 369.9,365.5 368.2,368.2 366.5,370.8 364.7,373.4 362.9,376.0 361.1,378.6 359.2,381.1 357.3,383.6 355.4,386.2 353.5,388.7 351.5,391.1 349.6,393.5 347.6,395.8 345.7,398.0 343.8,400.1 341.8,402.1 339.9,404.0 337.9,405.8 336.0,407.6 334.0,409.4 332.0,411.1 330.1,412.9 328.1,414.6 326.2,416.2 324.2,417.8 322.3,419.4 320.3,420.9 318.4,422.4 316.4,423.9 314.5,425.4 312.5,426.8 310.6,428.2 308.6,429.6 306.6,431.0 304.7,432.3 302.7,433.7 300.7,435.0 298.7,436.3 296.7,437.7 294.7,439.0 292.7,440.3 290.6,441.7 288.6,443.0 286.6,444.3 284.8,445.5 283.0,446.8 281.3,448.0 279.6,449.3 278.0,450.5 276.5,451.8 275.1,452.9 273.8,453.9 272.8,454.8 273.2,455.0 273.6,454.8 272.6,453.9 271.3,452.9 269.9,451.8 268.4,450.5 266.8,449.3 265.1,448.0 263.4,446.8 261.6,445.5 259.8,444.3 257.8,443.0 255.8,441.7 253.7,440.3 251.7,439.0 249.7,437.7 247.7,436.3 245.7,435.0 243.7,433.7 241.7,432.3 239.8,431.0 237.8,429.6 235.8,428.2 233.9,426.8 231.9,425.4 230.0,423.9 228.0,422.4 226.1,420.9 224.1,419.4 222.2,417.8 220.2,416.2 218.3,414.6 216.3,412.9 214.4,411.1 212.4,409.4 210.4,407.6 208.5,405.8 206.5,404.0 204.6,402.1 202.6,400.1 200.7,398.0 198.8,395.8 196.8,393.5 194.9,391.1 192.9,388.7 191.0,386.2 189.1,383.6 187.2,381.1 185.3,378.6 183.5,376.0 181.7,373.4 179.9,370.8 178.2,368.2 176.5,365.5 174.8,363.0 173.3,360.5 171.8,358.0 170.6,355.8 169.4,353.8 168.4,351.8 167.5,349.9 166.5,347.9 165.5,345.8 164.4,343.5 163.2,340.8 161.9,337.8 160.4,334.6 158.8,331.1 157.2,327.5 155.6,323.9 154.1,320.2 152.7,316.5 151.4,313.0 150.2,309.5 149.1,306.0 148.0,302.6 146.9,299.1 146.0,295.6 145.1,292.2 144.2,288.7 143.4,285.2 142.8,281.8 142.3,278.2 141.8,274.6 141.4,271.1 141.1,267.6 140.7,264.1 140.5,260.7 140.2,257.4 139.9,254.4 139.6,251.6 139.4,248.9 139.2,246.3 139.1,243.7 139.0,241.0 139.0,238.1 138.9,235.0 138.9,231.5 139.0,227.7 139.2,223.7 139.4,219.6 139.7,215.4 140.0,211.2 140.3,207.2 140.6,203.3 140.9,199.7 141.2,196.1 141.5,192.6 141.9,189.2 142.2,185.8 142.6,182.4 143.0,179.0 143.4,175.6 143.9,172.1 144.4,168.6 144.9,165.1 145.4,161.7 145.9,158.2 146.5,154.7 147.0,151.3 147.6,147.9 148.2,144.4 148.8,140.7 149.5,136.9 150.2,133.1 150.9,129.6 151.5,126.4 152.1,123.8Z" fill="#151316"/>
<g clip-path="url(#ncin)">
<path d="M120,300.8 L120,175.9 A279.7,279.7 0 0 1 426.4,175.9 L426.4,300.8Z" fill="#ad985f"/>
<rect x="158.4" y="322.9" width="20" height="140" fill="#fff"/>
<rect x="200.4" y="322.9" width="20" height="140" fill="#fff"/>
<rect x="242.4" y="322.9" width="20" height="140" fill="#fff"/>
<rect x="284.4" y="322.9" width="20" height="140" fill="#fff"/>
<rect x="326.4" y="322.9" width="20" height="140" fill="#fff"/>
<rect x="368.4" y="322.9" width="20" height="140" fill="#fff"/>
</g>
<text x="252.4" y="320.0" font-size="20" fill="#fff" stroke="#fff" stroke-width="0.55" textLength="44.4" lengthAdjust="spacingAndGlyphs">1862</text>
<text font-size="20.5" font-weight="bold" fill="#fff" letter-spacing="3.35"><textPath href="#ncarc" startOffset="45.4">Notts County FC</textPath></text>
<g><clipPath id="ncball"><circle cx="273.3" cy="257.1" r="35.400000000000006"/></clipPath>
<circle cx="273.3" cy="257.1" r="36.2" fill="#151316"/>
<path clip-path="url(#ncball)" d="M293.2,246.2 302.6,251.7 302.6,262.6 293.2,268.0 283.8,262.6 283.8,251.7ZM313.8,246.2 323.2,251.7 323.2,262.6 313.8,268.0 304.4,262.6 304.4,251.7ZM283.2,263.4 292.7,268.9 292.7,279.8 283.2,285.2 273.8,279.8 273.8,268.9ZM293.6,281.3 303.0,286.7 303.0,297.6 293.6,303.1 284.1,297.6 284.1,286.7ZM263.4,263.4 272.8,268.9 272.8,279.8 263.4,285.2 253.9,279.8 253.9,268.9ZM253.1,281.3 262.5,286.7 262.5,297.6 253.1,303.1 243.6,297.6 243.6,286.7ZM253.4,246.2 262.8,251.7 262.8,262.6 253.4,268.0 244.0,262.6 244.0,251.7ZM232.8,246.2 242.2,251.7 242.2,262.6 232.8,268.0 223.4,262.6 223.4,251.7ZM263.4,229.0 272.8,234.4 272.8,245.3 263.4,250.8 253.9,245.3 253.9,234.4ZM253.0,211.1 262.5,216.6 262.5,227.5 253.0,232.9 243.6,227.5 243.6,216.6ZM283.2,229.0 292.7,234.4 292.7,245.3 283.2,250.8 273.8,245.3 273.8,234.4ZM293.6,211.1 303.0,216.6 303.0,227.5 293.6,232.9 284.1,227.5 284.1,216.6Z" fill="#fff"/></g>
<g transform="translate(190 130) scale(0.12160)">
<path d="M198,269 270,288 332,337 378,391 408,360 431,299 454,276 469,238 492,246 507,207 530,215 546,181 569,188 576,162 592,192 607,230 615,322 599,414 576,460 561,498 576,498 607,521 615,552 611,601 592,582 576,590 584,643 592,689 576,727 546,758 492,778 485,789 454,812 400,888 332,964 270,1033 248,1049 232,1033 194,1079 141,1125 118,1140 102,1125 118,1094 194,987 270,873 347,758 408,674 423,651 378,651 370,628 324,643 316,620 270,613 286,582 248,567 270,544 232,506 263,490 244,452 221,353ZM641,132 646,120 662,135 668,95 691,74 700,100 715,107 725,85 740,90 752,125 765,132 778,115 789,123 798,160 806,164 815,180 831,181 850,240 863,280 896,304 921,263 979,189 1053,132 1118,119 1095,190 1075,260 1077,288 1077,321 1086,370 1069,395 1086,428 1061,452 1077,485 1036,502 1061,526 995,526 1020,567 954,576 921,609 954,683 1020,781 1086,863 1168,946 1234,1011 1283,1086 1291,1118 1275,1110 1234,1044 1184,1003 1135,995 1110,1003 1086,979 1036,921 987,847 938,765 905,740 880,765 847,770 798,760 757,735 724,690 715,650 707,600 699,551 683,543 662,584 666,518 699,469 715,386 683,312 650,247Z" fill="#151316"/>
<path d="M207,278 268,296 326,343 366,392 340,426 286,458 252,443 230,353ZM492,620 530,651 569,689 576,727 546,758 492,773 454,773 431,735 435,697 462,674 481,689ZM1105,129 1053,141 985,196 930,263 910,300 954,336 1015,344 1058,317 1064,290 1050,272 1076,206ZM831,551 814,609 789,633 732,658 724,683 757,724 798,748 847,757 888,724 896,691 872,650 847,633 863,609 839,576Z" fill="#fff"/>
<path d="M431,360L469,280M469,345L507,242M500,330L538,226M530,315L567,212M561,307L584,228M656,150L683,255M692,110L722,263M737,126L764,271M792,186L805,275M812,215L832,280" stroke="#fff" stroke-width="24" stroke-linecap="butt" fill="none"/>
</g>
</g>
<g id="southend-crest" stroke-linejoin="miter">
<defs><clipPath id="sushield"><path d="M154.9,540.6 C225,545 248,540 273.25,522 C298.5,540 321.5,545 391.6,540.6 L391.6,704.4 C391.4,707.2 391.7,716.1 390.4,721.5C389.1,726.9 387.0,731.8 384.0,736.6C381.0,741.4 376.8,746.8 372.2,750.5C367.6,754.2 362.2,756.8 356.1,759.1C350.0,761.4 342.7,762.5 335.7,764.5C328.7,766.5 320.5,769.0 314.2,771.4C307.9,773.8 302.6,776.9 298.1,778.9C293.6,780.9 291.5,781.8 287.4,783.2C283.3,784.6 275.6,786.8 273.3,787.5C270.9,786.8 263.2,784.6 259.1,783.2C255.0,781.8 252.9,780.9 248.4,778.9C243.9,776.9 238.6,773.8 232.3,771.4C226.0,769.0 217.8,766.5 210.8,764.5C203.8,762.5 196.5,761.4 190.4,759.1C184.3,756.8 179.0,754.2 174.3,750.5C169.7,746.8 165.5,741.4 162.5,736.6C159.5,731.8 157.4,726.9 156.1,721.5C154.8,716.1 155.1,707.2 154.9,704.4Z"/></clipPath></defs>
<path d="M154.9,540.6 C225,545 248,540 273.25,522 C298.5,540 321.5,545 391.6,540.6 L391.6,704.4 C391.4,707.2 391.7,716.1 390.4,721.5C389.1,726.9 387.0,731.8 384.0,736.6C381.0,741.4 376.8,746.8 372.2,750.5C367.6,754.2 362.2,756.8 356.1,759.1C350.0,761.4 342.7,762.5 335.7,764.5C328.7,766.5 320.5,769.0 314.2,771.4C307.9,773.8 302.6,776.9 298.1,778.9C293.6,780.9 291.5,781.8 287.4,783.2C283.3,784.6 275.6,786.8 273.3,787.5C270.9,786.8 263.2,784.6 259.1,783.2C255.0,781.8 252.9,780.9 248.4,778.9C243.9,776.9 238.6,773.8 232.3,771.4C226.0,769.0 217.8,766.5 210.8,764.5C203.8,762.5 196.5,761.4 190.4,759.1C184.3,756.8 179.0,754.2 174.3,750.5C169.7,746.8 165.5,741.4 162.5,736.6C159.5,731.8 157.4,726.9 156.1,721.5C154.8,716.1 155.1,707.2 154.9,704.4Z" fill="#fff"/>
<g clip-path="url(#sushield)">
<path d="M247.2,671.1C257.6,671.1 265.3,658.8 275.7,658.8C286.1,658.8 293.8,671.1 304.1,671.1C314.5,671.1 322.2,658.8 332.6,658.8C343.0,658.8 350.6,671.1 361.0,671.1C371.4,671.1 379.1,658.8 389.5,658.8C399.9,658.8 407.6,671.1 417.9,671.1L417.9,688.8C407.6,688.8 399.9,676.5 389.5,676.5C379.1,676.5 371.4,688.8 361.0,688.8C350.6,688.8 343.0,676.5 332.6,676.5C322.2,676.5 314.5,688.8 304.1,688.8C293.8,688.8 286.1,676.5 275.7,676.5C265.3,676.5 257.6,688.8 247.2,688.8ZM247.2,710.0C257.6,710.0 265.3,697.7 275.7,697.7C286.1,697.7 293.8,710.0 304.1,710.0C314.5,710.0 322.2,697.7 332.6,697.7C343.0,697.7 350.6,710.0 361.0,710.0C371.4,710.0 379.1,697.7 389.5,697.7C399.9,697.7 407.6,710.0 417.9,710.0L417.9,727.7C407.6,727.7 399.9,715.4 389.5,715.4C379.1,715.4 371.4,727.7 361.0,727.7C350.6,727.7 343.0,715.4 332.6,715.4C322.2,715.4 314.5,727.7 304.1,727.7C293.8,727.7 286.1,715.4 275.7,715.4C265.3,715.4 257.6,727.7 247.2,727.7ZM247.2,748.9C257.6,748.9 265.3,736.6 275.7,736.6C286.1,736.6 293.8,748.9 304.1,748.9C314.5,748.9 322.2,736.6 332.6,736.6C343.0,736.6 350.6,748.9 361.0,748.9C371.4,748.9 379.1,736.6 389.5,736.6C399.9,736.6 407.6,748.9 417.9,748.9L417.9,766.6C407.6,766.6 399.9,754.3 389.5,754.3C379.1,754.3 371.4,766.6 361.0,766.6C350.6,766.6 343.0,754.3 332.6,754.3C322.2,754.3 314.5,766.6 304.1,766.6C293.8,766.6 286.1,754.3 275.7,754.3C265.3,754.3 257.6,766.6 247.2,766.6Z" fill="#053b84"/>
<rect x="150" y="650" width="123.2" height="140" fill="#fff"/>
</g>
<path d="M273.25,522 L273.25,787 M154.9,647.9 L391.6,647.9" stroke="#053b84" stroke-width="4.3" fill="none"/>
<path d="M154.9,540.6 C225,545 248,540 273.25,522 C298.5,540 321.5,545 391.6,540.6 L391.6,704.4 C391.4,707.2 391.7,716.1 390.4,721.5C389.1,726.9 387.0,731.8 384.0,736.6C381.0,741.4 376.8,746.8 372.2,750.5C367.6,754.2 362.2,756.8 356.1,759.1C350.0,761.4 342.7,762.5 335.7,764.5C328.7,766.5 320.5,769.0 314.2,771.4C307.9,773.8 302.6,776.9 298.1,778.9C293.6,780.9 291.5,781.8 287.4,783.2C283.3,784.6 275.6,786.8 273.3,787.5C270.9,786.8 263.2,784.6 259.1,783.2C255.0,781.8 252.9,780.9 248.4,778.9C243.9,776.9 238.6,773.8 232.3,771.4C226.0,769.0 217.8,766.5 210.8,764.5C203.8,762.5 196.5,761.4 190.4,759.1C184.3,756.8 179.0,754.2 174.3,750.5C169.7,746.8 165.5,741.4 162.5,736.6C159.5,731.8 157.4,726.9 156.1,721.5C154.8,716.1 155.1,707.2 154.9,704.4Z" fill="none" stroke="#053b84" stroke-width="4.3"/>
<g transform="translate(140 510) scale(0.10730)" stroke="#053b84" stroke-width="12" stroke-linejoin="round">
<g transform="translate(0 0)"><path d="M475,460 C600,410 680,395 750,395 C880,395 1020,445 1128,512 L1020,615 L965,590 C975,565 970,540 950,525 C925,508 890,520 870,548 C780,530 640,520 520,550 Z" fill="#053b84" stroke="none"/><path d="M322,520 L418,480 L445,557 L355,608 Z" fill="#fff"/><path d="M322,515 C285,500 250,530 255,575 C260,625 315,650 362,628 Z" fill="#fff"/><path d="M330,435 C385,400 440,420 465,470 C490,525 500,580 548,606 C500,625 450,600 430,555 C405,495 392,452 330,435 Z" fill="#fff"/></g>
<g transform="translate(0 272)"><path d="M475,460 C600,410 680,395 750,395 C880,395 1020,445 1128,512 L1020,615 L965,590 C975,565 970,540 950,525 C925,508 890,520 870,548 C780,530 640,520 520,550 Z" fill="#053b84" stroke="none"/><path d="M322,520 L418,480 L445,557 L355,608 Z" fill="#fff"/><path d="M322,515 C285,500 250,530 255,575 C260,625 315,650 362,628 Z" fill="#fff"/><path d="M330,435 C385,400 440,420 465,470 C490,525 500,580 548,606 C500,625 450,600 430,555 C405,495 392,452 330,435 Z" fill="#fff"/></g>
<g transform="translate(0 552)"><path d="M475,460 C600,410 680,395 750,395 C880,395 1020,445 1128,512 L1020,615 L965,590 C975,565 970,540 950,525 C925,508 890,520 870,548 C780,530 640,520 520,550 Z" fill="#053b84" stroke="none"/><path d="M322,520 L418,480 L445,557 L355,608 Z" fill="#fff"/><path d="M322,515 C285,500 250,530 255,575 C260,625 315,650 362,628 Z" fill="#fff"/><path d="M330,435 C385,400 440,420 465,470 C490,525 500,580 548,606 C500,625 450,600 430,555 C405,495 392,452 330,435 Z" fill="#fff"/></g>
</g>
<g transform="translate(265 510) scale(0.10730)">
<defs><clipPath id="suball"><circle cx="635" cy="781" r="420"/></clipPath></defs>
<circle cx="635" cy="781" r="420" fill="#fff" stroke="#053b84" stroke-width="16"/>
<path clip-path="url(#suball)" d="M615,570 L790,560 L830,730 L700,810 L585,715ZM330,705 L435,790 L405,940 L320,965 L255,800ZM550,1040 L665,990 L795,1050 L735,1150 L570,1150ZM1035,700 L975,800 L955,950 L1000,965 L1100,900 L1100,700ZM300,520 L350,490 L395,535 L530,465 L545,440 L610,375 L700,385 L820,420 L840,470 L1000,520 L900,330 L635,300 L400,380Z" fill="#053b84"/>
<path clip-path="url(#suball)" d="M615,570 L540,465M790,560 L845,470M830,730 L975,800M700,810 L680,980 L665,990M585,715 L435,790M330,705 L395,535M255,800 L220,795M320,965 L322,1045M405,940 L550,1040M570,1150 L490,1165M735,1150 L770,1172M795,1050 L955,950M1000,965 L985,985M235,800 C240,900 270,970 310,1020M520,1170 C600,1150 680,1150 745,1165" fill="none" stroke="#053b84" stroke-width="13" stroke-linecap="round"/>
</g>
<g transform="translate(140 640) scale(0.10730)">
<path d="M635,290 L660,345 L700,415 L760,490 C830,570 900,620 990,720 C1080,830 1140,940 1125,1040 C1112,1130 1060,1190 980,1188 C900,1185 830,1130 780,1050 C740,985 715,900 680,840 C650,790 600,740 530,712 L610,728 L520,645 L690,720 L760,735 L750,700 L700,660 L655,628 L675,618 L640,590 L580,540 L480,462 L600,488 L650,470 L640,400 Z" fill="#053b84"/>
<path d="M505,105 C530,230 580,360 640,460 M280,260 L610,470" stroke="#053b84" stroke-width="9" fill="none"/>
<circle cx="700" cy="565" r="22" fill="#fff"/>
<path d="M855,785 C900,775 950,785 985,805 M790,795 C820,870 860,920 900,950 M850,965 C835,1010 840,1050 855,1095 M935,975 C980,1000 1015,1030 1040,1060" stroke="#fff" stroke-width="10" fill="none" stroke-linecap="round"/>
</g>
<path d="M110.2,755.8 176.7,769.2 176.7,792.0 139.5,809.5 108.6,800.6 119.6,780.5ZM436.3,755.8 369.8,769.2 369.8,792.0 407.0,809.5 437.9,800.6 426.9,780.5Z" fill="#fff" stroke="#053b84" stroke-width="3.5"/>
<path d="M176.5,770.5 L143.5,776 M370.0,770.5 L403.0,776" stroke="#053b84" stroke-width="3.5" fill="none"/>
<path d="M143.5,776 Q273.25,792.6 403.0,776 L406.9,823.2 Q273.25,841.8 139.6,823.2 Z" fill="#fff" stroke="#053b84" stroke-width="3.5"/>
<g transform="scale(0.53 1)"><path id="subase" d="M283.0,816.6 Q515.6,837.0 752.8,816.6" fill="none"/><filter id="sufat" x="-5%" y="-20%" width="110%" height="140%"><feMorphology operator="dilate" radius="1.6 0"/></filter><text filter="url(#sufat)" font-size="46" font-weight="bold" font-style="italic" fill="#053b84" textLength="471.2" lengthAdjust="spacing"><textPath href="#subase" textLength="471.2" lengthAdjust="spacing">SOUTHEND UNITED</textPath></text></g>
</g>

</svg>
</body></html>
